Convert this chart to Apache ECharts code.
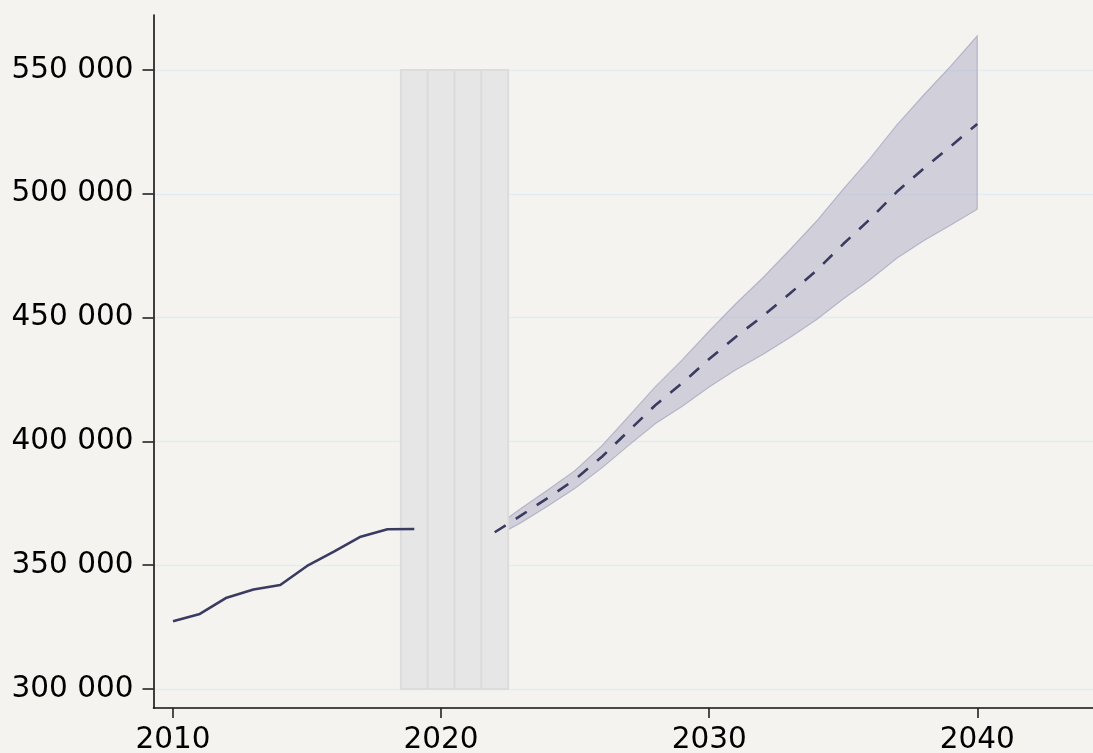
<!DOCTYPE html>
<html>
<head>
<meta charset="utf-8">
<script src="https://cdn.jsdelivr.net/npm/echarts@6/dist/echarts.min.js"></script>
<style>
html,body{margin:0;padding:0;background:#f4f3ef;}
#chart{width:1093px;height:753px;}
</style>
</head>
<body>
<div id="chart"></div>
<script>
// ---- data ----
const histYears  = [2010, 2011, 2012, 2013, 2014, 2015, 2016, 2017, 2018, 2019];
const histValues = [327400, 330300, 336900, 340200, 342000, 349700, 355500, 361500, 364500, 364600];

const fcYears = [2022, 2023, 2024, 2025, 2026, 2027, 2028, 2029, 2030, 2031, 2032, 2033, 2034, 2035, 2036, 2037, 2038, 2039, 2040];
const fcMid   = [363300, 370200, 377300, 384700, 393800, 404300, 414700, 423600, 433300, 442300, 450600, 459600, 469000, 479700, 489800, 500800, 510200, 519100, 528200];
const fcUpper = [365300, 373100, 380600, 388300, 398300, 410200, 422200, 433000, 444600, 455700, 466100, 477300, 488900, 501900, 514300, 527800, 539900, 551500, 563800];
const fcLower = [361300, 367300, 374000, 381100, 389300, 398400, 407200, 414200, 422000, 428900, 435100, 441900, 449100, 457500, 465300, 474000, 481000, 487300, 493800];

const gapYears  = [2019, 2020, 2021, 2022];
const gapBottom = [300000, 300000, 300000, 300000];
const gapTop    = [550000, 550000, 550000, 550000];

const xTicks = [2010, 2020, 2030, 2040];
const yTicks = [300000, 350000, 400000, 450000, 500000, 550000];

// ---- build ----
const pair = (xs, ys) => xs.map((x, i) => [x, ys[i]]);
const bandData = fcYears.map((x, i) => [x, fcLower[i], fcUpper[i]]);
const gapData = gapYears.map((x, i) => [x, gapBottom[i], gapTop[i]]);
const fmt = v => String(v).replace(/\B(?=(\d{3})+(?!\d))/g, ' ');

const chart = echarts.init(document.getElementById('chart'), null, {renderer: 'canvas'});
const lineColor = '#3b3b62';
const axisFont = {fontFamily: 'DejaVu Sans', fontSize: 29.5, color: '#000'};

chart.setOption({
  backgroundColor: '#f4f3ef',
  animation: false,
  grid: {left: 153.5, top: 15, right: 0, bottom: 45, containLabel: false, outerBoundsMode: 'none'},
  xAxis: {
    type: 'value',
    min: 2009.272, max: 2044.317,
    axisLine: {show: true, lineStyle: {color: '#111', width: 1.6}},
    axisTick: {show: true, length: 10, customValues: xTicks, lineStyle: {color: '#222', width: 1.6}},
    axisLabel: Object.assign({customValues: xTicks, margin: 17, formatter: v => String(v)}, axisFont),
    splitLine: {show: false}
  },
  yAxis: {
    type: 'value',
    min: 292326, max: 572213,
    axisLine: {show: true, lineStyle: {color: '#111', width: 1.6}},
    axisTick: {show: true, length: 11, customValues: yTicks, lineStyle: {color: '#222', width: 1.6}},
    axisLabel: Object.assign({customValues: yTicks, margin: 20, formatter: fmt}, axisFont),
    splitLine: {show: true, lineStyle: {color: '#e2edf3', width: 1.3}}
  },
  series: [
    {
      type: 'custom', name: 'band', data: bandData, z: 1, silent: true,
      renderItem: (params, api) => {
        if (params.dataIndex !== 0) return null;
        const up = bandData.map(d => api.coord([d[0], d[2]]));
        const lo = bandData.map(d => api.coord([d[0], d[1]])).reverse();
        return {
          type: 'polygon',
          shape: {points: up.concat(lo)},
          style: {fill: 'rgba(150,150,185,0.38)', stroke: 'rgba(120,120,160,0.4)', lineWidth: 1.2}
        };
      }
    },
    {
      type: 'custom', name: 'gap', data: gapData, z: 2, silent: true,
      renderItem: (params, api) => {
        const x = api.value(0);
        const p1 = api.coord([x - 0.5, api.value(2)]);
        const p2 = api.coord([x + 0.5, api.value(1)]);
        return {
          type: 'rect',
          shape: {x: p1[0], y: p1[1], width: p2[0] - p1[0], height: p2[1] - p1[1]},
          style: {fill: '#e6e6e6', stroke: '#dcdcdc', lineWidth: 2}
        };
      }
    },
    {
      type: 'line', name: 'history', data: pair(histYears, histValues), symbol: 'none',
      lineStyle: {color: lineColor, width: 2.6}, z: 3
    },
    {
      type: 'line', name: 'forecast', data: pair(fcYears, fcMid), symbol: 'none',
      lineStyle: {color: lineColor, width: 2.6, type: [13, 12]}, z: 3
    }
  ]
});
</script>
</body>
</html>
